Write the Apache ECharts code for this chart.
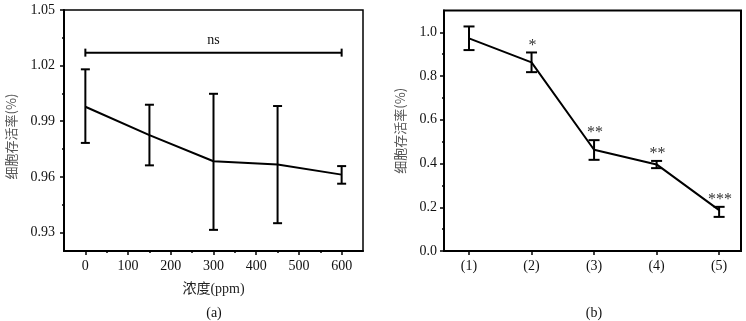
<!DOCTYPE html>
<html>
<head>
<meta charset="utf-8">
<script src="https://cdn.jsdelivr.net/npm/echarts@6/dist/echarts.min.js"></script>
<style>
  html, body { margin: 0; padding: 0; background: #fff; }
  #chart { width: 746px; height: 321px; }
</style>
</head>
<body>
<div id="chart"></div>
<script>
// (a) viability vs concentration
const concA = [0, 150, 300, 450, 600];
const meanA = [0.9978, 0.9825, 0.9684, 0.9666, 0.9612];
const upperA = [1.018, 0.9989, 1.0048, 0.9982, 0.9658];
const lowerA = [0.9783, 0.9662, 0.9314, 0.935, 0.9563];
const nsBracket = [0, 600, 1.027];
const yTicksA = [0.93, 0.96, 0.99, 1.02, 1.05];
const yMinorA = [0.945, 0.975, 1.005, 1.035];
const xTicksA = [0, 100, 200, 300, 400, 500, 600];
const xMinorA = [50, 150, 250, 350, 450, 550];

// (b) viability by group
const groupB = [1, 2, 3, 4, 5];
const meanB = [0.9725, 0.863, 0.463, 0.396, 0.187];
const upperB = [1.027, 0.908, 0.507, 0.412, 0.202];
const lowerB = [0.919, 0.818, 0.417, 0.379, 0.156];
const starsB = ['', '*', '**', '**', '***'];
const yTicksB = [0, 0.2, 0.4, 0.6, 0.8, 1.0];
const yMinorB = [0.1, 0.3, 0.5, 0.7, 0.9];

const serif = 'Liberation Serif';
const cjk = 'Noto Sans CJK SC';
const black = '#111';

const chart = echarts.init(document.getElementById('chart'));

function errorBars(capHalf) {
  return function (params, api) {
    const x = api.value(0);
    const hi = api.coord([x, api.value(1)]);
    const lo = api.coord([x, api.value(2)]);
    const st = { stroke: '#000', lineWidth: 2 };
    return {
      type: 'group',
      children: [
        { type: 'line', shape: { x1: hi[0], y1: hi[1], x2: lo[0], y2: lo[1] }, style: st },
        { type: 'line', shape: { x1: hi[0] - capHalf, y1: hi[1], x2: hi[0] + capHalf, y2: hi[1] }, style: st },
        { type: 'line', shape: { x1: lo[0] - capHalf, y1: lo[1], x2: lo[0] + capHalf, y2: lo[1] }, style: st }
      ]
    };
  };
}

const tickLabel = { color: black, fontFamily: serif, fontSize: 14 };

function ticks(values, len) {
  return { show: true, length: len, customValues: values, lineStyle: { color: '#000', width: 1.5 } };
}

function valueAxis(base) {
  return Object.assign({
    type: 'value',
    axisLine: { show: true, onZero: false, lineStyle: { color: '#000', width: 2 } },
    splitLine: { show: false }
  }, base);
}

function minorAxis(base) {
  return Object.assign({
    type: 'value',
    axisLine: { show: false, onZero: false },
    splitLine: { show: false },
    axisLabel: { show: false }
  }, base);
}

const option = {
  animation: false,
  backgroundColor: '#fff',
  grid: [
    { left: 64, right: 383, top: 10, bottom: 70, show: true, borderColor: '#000', borderWidth: 1.5, backgroundColor: 'transparent' },
    { left: 444, right: 5, top: 10.5, bottom: 70, show: true, borderColor: '#000', borderWidth: 2, backgroundColor: 'transparent' }
  ],
  xAxis: [
    valueAxis({
      gridIndex: 0, position: 'bottom', min: -50, max: 650,
      name: '浓度(ppm)', nameLocation: 'middle', nameGap: 31,
      nameTextStyle: { color: '#222', fontFamily: serif + ',' + cjk, fontSize: 14 },
      axisTick: ticks(xTicksA, 4),
      axisLabel: Object.assign({ customValues: xTicksA, margin: 8 }, tickLabel)
    }),
    minorAxis({ gridIndex: 0, position: 'bottom', min: -50, max: 650, axisTick: ticks(xMinorA, 2) }),
    valueAxis({
      gridIndex: 1, position: 'bottom', min: 0.6, max: 5.35,
      axisTick: ticks(groupB, 4),
      axisLabel: Object.assign({ customValues: groupB, margin: 8, formatter: v => '(' + v + ')' }, tickLabel)
    })
  ],
  yAxis: [
    valueAxis({
      gridIndex: 0, position: 'left', min: 0.92, max: 1.05,
      name: '细胞存活率(%)', nameLocation: 'middle', nameGap: 46,
      nameTextStyle: { color: '#555', fontFamily: cjk, fontSize: 13, padding: [0, 12, 0, 0] },
      axisTick: ticks(yTicksA, 4),
      axisLabel: Object.assign({ customValues: yTicksA, margin: 9, formatter: v => v.toFixed(2) }, tickLabel)
    }),
    minorAxis({ gridIndex: 0, position: 'left', min: 0.92, max: 1.05, axisTick: ticks(yMinorA, 2) }),
    valueAxis({
      gridIndex: 1, position: 'left', min: 0, max: 1.1,
      name: '细胞存活率(%)', nameLocation: 'middle', nameGap: 37,
      nameTextStyle: { color: '#555', fontFamily: cjk, fontSize: 13 },
      axisTick: ticks(yTicksB, 4),
      axisLabel: Object.assign({ customValues: yTicksB, margin: 7, formatter: v => v.toFixed(1) }, tickLabel)
    }),
    minorAxis({ gridIndex: 1, position: 'left', min: 0, max: 1.1, axisTick: ticks(yMinorB, 2) })
  ],
  series: [
    {
      type: 'line', xAxisIndex: 0, yAxisIndex: 0, silent: true,
      data: concA.map((c, i) => [c, meanA[i]]),
      symbol: 'none', lineStyle: { color: '#000', width: 2 }
    },
    {
      type: 'custom', xAxisIndex: 0, yAxisIndex: 0, silent: true,
      renderItem: errorBars(4.5),
      encode: { x: 0, y: [1, 2] },
      data: concA.map((c, i) => [c, upperA[i], lowerA[i]])
    },
    {
      type: 'custom', xAxisIndex: 0, yAxisIndex: 0, silent: true,
      renderItem: function (params, api) {
        const a = api.coord([api.value(0), api.value(2)]);
        const b = api.coord([api.value(1), api.value(2)]);
        const st = { stroke: '#000', lineWidth: 2 };
        return {
          type: 'group',
          children: [
            { type: 'line', shape: { x1: a[0], y1: a[1], x2: b[0], y2: b[1] }, style: st },
            { type: 'line', shape: { x1: a[0], y1: a[1] - 4, x2: a[0], y2: a[1] + 4 }, style: st },
            { type: 'line', shape: { x1: b[0], y1: b[1] - 4, x2: b[0], y2: b[1] + 4 }, style: st },
            { type: 'text', x: (a[0] + b[0]) / 2, y: a[1] - 12,
              style: { text: 'ns', fill: black, font: '14px ' + serif, align: 'center', verticalAlign: 'middle' } }
          ]
        };
      },
      data: [nsBracket]
    },
    {
      type: 'line', xAxisIndex: 2, yAxisIndex: 2, silent: true,
      data: groupB.map((g, i) => [g, meanB[i]]),
      symbol: 'none', lineStyle: { color: '#000', width: 2 }
    },
    {
      type: 'custom', xAxisIndex: 2, yAxisIndex: 2, silent: true,
      renderItem: errorBars(5.5),
      encode: { x: 0, y: [1, 2] },
      data: groupB.map((g, i) => [g, upperB[i], lowerB[i]])
    },
    {
      type: 'custom', xAxisIndex: 2, yAxisIndex: 2, silent: true,
      renderItem: function (params, api) {
        const p = api.coord([api.value(0), api.value(1)]);
        return {
          type: 'text', x: p[0] + 1, y: p[1] + 1,
          style: { text: starsB[params.dataIndex], fill: '#333', font: '16px ' + serif, align: 'center', verticalAlign: 'bottom' }
        };
      },
      data: groupB.map((g, i) => [g, upperB[i]])
    }
  ],
  graphic: [
    { type: 'text', x: 214, y: 313, style: { text: '(a)', fill: black, font: '14px ' + serif, align: 'center', verticalAlign: 'middle' } },
    { type: 'text', x: 594, y: 313, style: { text: '(b)', fill: black, font: '14px ' + serif, align: 'center', verticalAlign: 'middle' } }
  ]
};

chart.setOption(option);
</script>
</body>
</html>
